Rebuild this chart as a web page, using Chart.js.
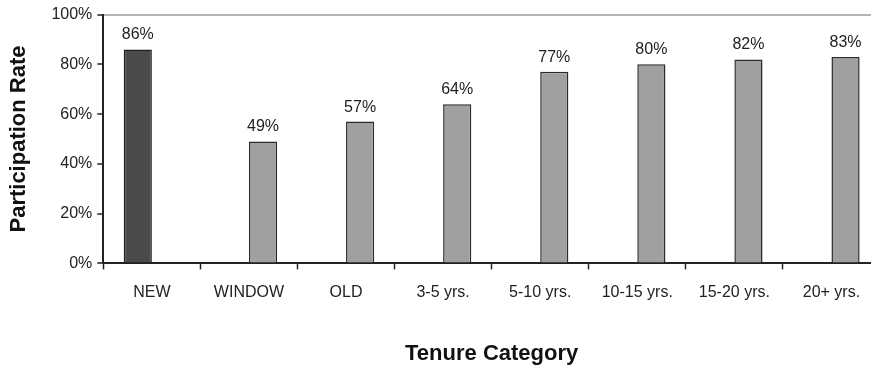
<!DOCTYPE html>
<html>
<head>
<meta charset="utf-8">
<script src="https://cdn.jsdelivr.net/npm/chart.js@4.4.1/dist/chart.umd.min.js"></script>
<style>
  html, body { margin: 0; padding: 0; background: #fff; overflow: hidden; }
  #wrap { position: relative; width: 880px; height: 367px; }
</style>
</head>
<body>
<div id="wrap"><canvas id="myChart"></canvas></div>
<script>
// tenure categories and participation rate (%)
var categories = ["NEW", "WINDOW", "OLD", "3-5 yrs.", "5-10 yrs.", "10-15 yrs.", "15-20 yrs.", "20+ yrs."];
var newValues = [86, null, null, null, null, null, null, null];
var tenureValues = [null, 49, 57, 64, 77, 80, 82, 83];
var yTicks = [0, 20, 40, 60, 80, 100];

var font = "'Liberation Sans', Arial, sans-serif";

// draws the "86%" style labels over each bar
var barLabels = {
  id: 'barLabels',
  afterDatasetsDraw: function(chart) {
    var ctx = chart.ctx;
    ctx.save();
    ctx.font = "16px " + font;
    ctx.fillStyle = "#222";
    ctx.textAlign = "center";
    ctx.textBaseline = "alphabetic";
    chart.data.datasets.forEach(function(ds, i) {
      var meta = chart.getDatasetMeta(i);
      meta.data.forEach(function(bar, j) {
        var v = ds.data[j];
        if (v === null) return;
        ctx.fillText(v + "%", bar.x, bar.y - 10);
      });
    });
    ctx.restore();
  }
};

var ctx = document.getElementById('myChart').getContext('2d');
var chart = new Chart(ctx, {
  type: 'bar',
  data: {
    labels: categories,
    datasets: [{
      label: "New",
      data: newValues,
      backgroundColor: "#4a4a4a",
      borderColor: "#1e1e1e",
      borderWidth: 1.5,
      categoryPercentage: 0.58,
      barPercentage: 1.0
    }, {
      label: "Tenure",
      data: tenureValues,
      backgroundColor: "#a0a0a0",
      borderColor: "#2a2a2a",
      borderWidth: 1.5,
      categoryPercentage: 0.58,
      barPercentage: 1.0
    }]
  },
  options: {
    responsive: true,
    maintainAspectRatio: false,
    animation: false,
    layout: { padding: { top: 0, left: 6, right: 0, bottom: 0 } },
    plugins: {
      legend: { display: false },
      tooltip: { enabled: false }
    },
    scales: {
      x: {
        grid: {
          offset: true,
          drawOnChartArea: false,
          tickColor: "#222",
          tickLength: 6,
          tickWidth: 1.5
        },
        border: { color: "#222", width: 2 },
        ticks: { color: "#222", font: { family: font, size: 16 }, padding: 14, maxRotation: 0 },
        title: {
          display: true,
          text: "Tenure Category",
          color: "#111",
          font: { family: font, size: 22, weight: 'bold' },
          padding: { top: 24, bottom: 0 }
        }
      },
      y: {
        min: 0,
        max: 100,
        afterBuildTicks: function(axis) {
          axis.ticks = yTicks.map(function(v) { return { value: v }; });
        },
        grid: {
          color: function(c) { return c.tick && c.tick.value === 100 ? "#b4b4b4" : "rgba(0,0,0,0)"; },
          lineWidth: 2,
          tickColor: "#222",
          tickLength: 6,
          tickWidth: 1.5
        },
        border: { color: "#222", width: 2 },
        ticks: {
          color: "#222",
          font: { family: font, size: 16 },
          padding: 5,
          callback: function(v) { return v + "%"; }
        },
        title: {
          display: true,
          text: "Participation Rate",
          color: "#111",
          font: { family: font, size: 22, weight: 'bold' },
          padding: { top: 0, bottom: 14 }
        }
      }
    }
  },
  plugins: [barLabels]
});
</script>
</body>
</html>
